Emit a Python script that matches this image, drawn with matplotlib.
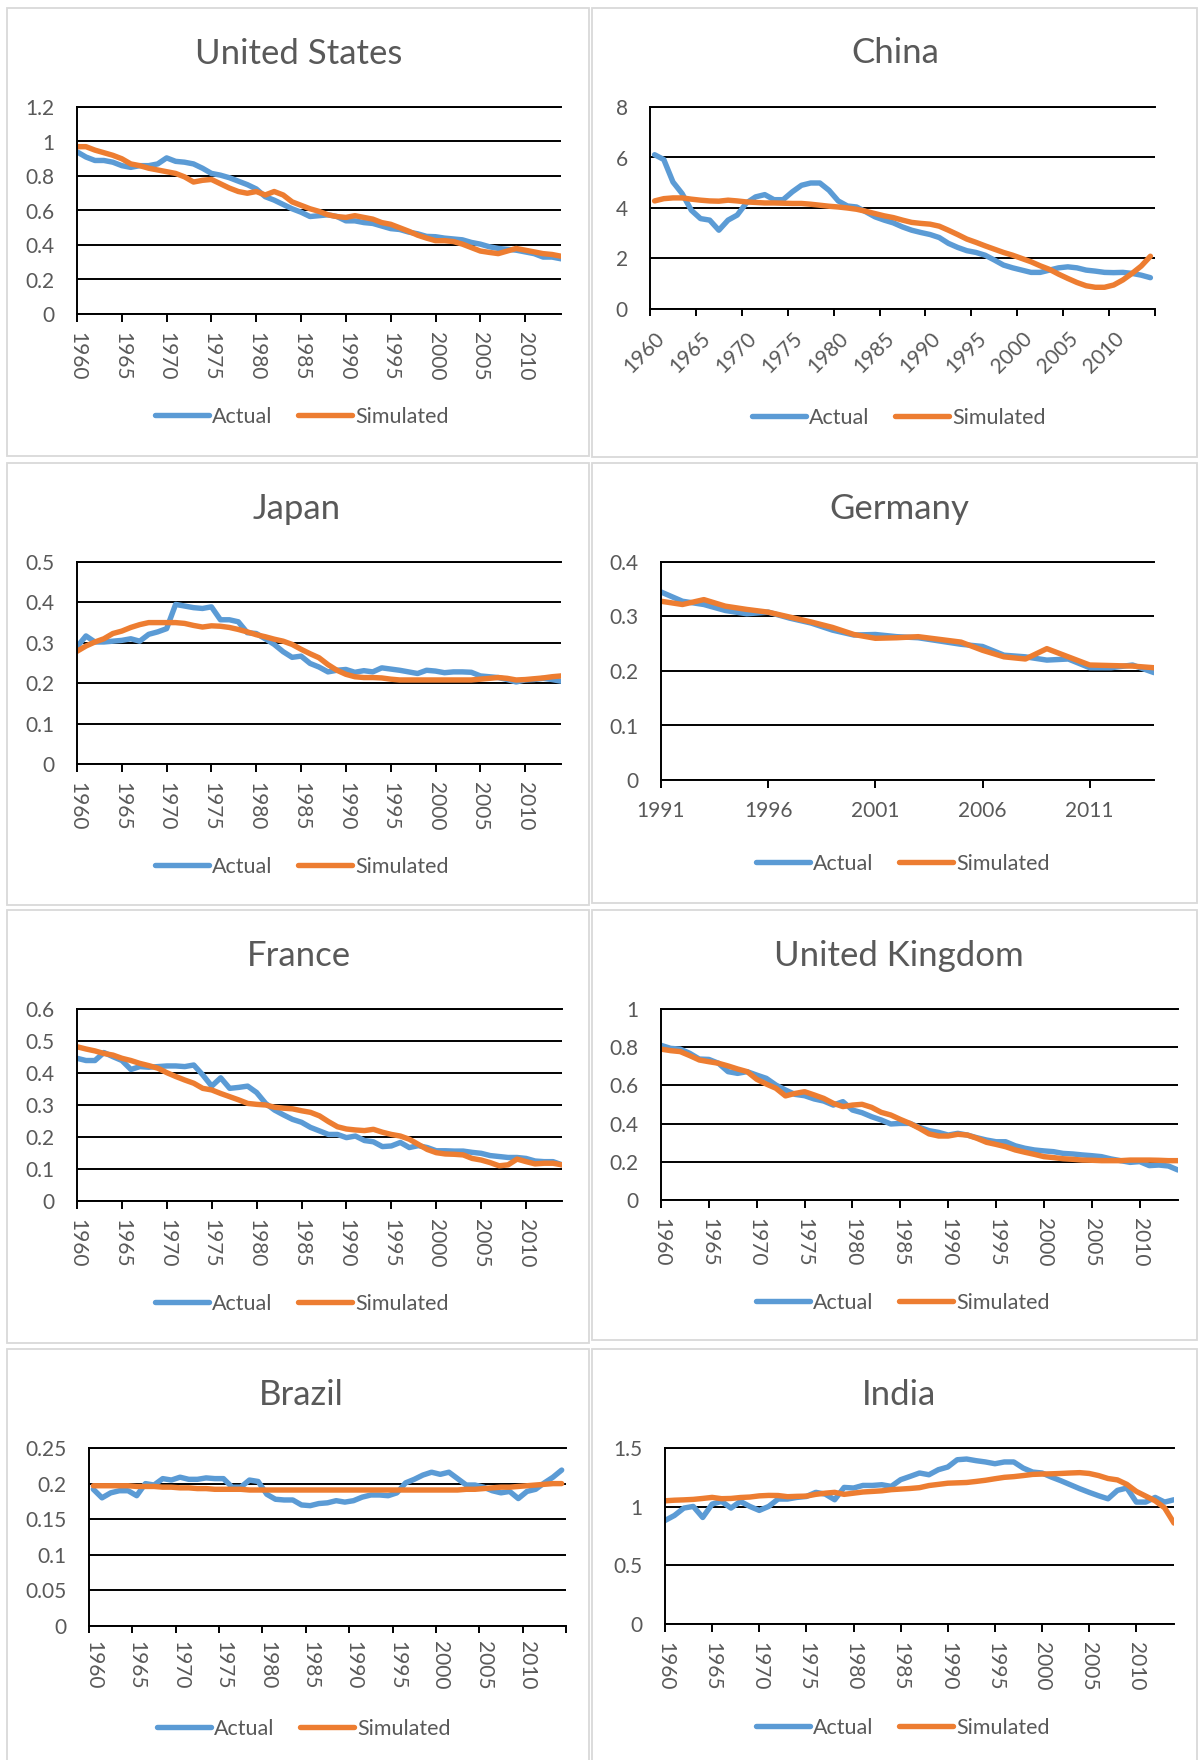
import numpy as np
import matplotlib.pyplot as plt
from matplotlib.patches import Rectangle

plt.rcParams['font.family'] = ['Lato', 'DejaVu Sans']

W, H = 1198, 1760
BLUE = '#5b9bd5'
ORANGE = '#ed7d31'
GREY = '#595959'

years = list(range(1960, 2015))
years_de = list(range(1991, 2015))

us_actual = [0.94, 0.91, 0.89, 0.89, 0.88, 0.86, 0.85, 0.86, 0.86, 0.87,
             0.905, 0.885, 0.88, 0.87, 0.845, 0.815, 0.805, 0.79, 0.77, 0.75,
             0.725, 0.68, 0.66, 0.635, 0.61, 0.59, 0.565, 0.57, 0.575, 0.565,
             0.54, 0.54, 0.53, 0.525, 0.51, 0.495, 0.49, 0.475, 0.465, 0.45,
             0.448, 0.44, 0.435, 0.43, 0.415, 0.405, 0.39, 0.38, 0.375, 0.37,
             0.36, 0.35, 0.33, 0.33, 0.32]
us_sim = [0.97, 0.97, 0.95, 0.935, 0.92, 0.90, 0.87, 0.86, 0.845, 0.835,
          0.825, 0.815, 0.795, 0.765, 0.775, 0.78, 0.755, 0.73, 0.71, 0.70,
          0.71, 0.69, 0.71, 0.69, 0.65, 0.63, 0.61, 0.595, 0.575, 0.565,
          0.56, 0.57, 0.56, 0.55, 0.53, 0.52, 0.50, 0.48, 0.457, 0.44,
          0.425, 0.425, 0.42, 0.405, 0.385, 0.365, 0.357, 0.35, 0.365, 0.38,
          0.37, 0.36, 0.35, 0.345, 0.335]

cn_actual = [6.11, 5.92, 5.03, 4.57, 3.91, 3.58, 3.52, 3.12, 3.52, 3.72,
             4.2, 4.44, 4.53, 4.33, 4.33, 4.64, 4.9, 4.99, 4.99, 4.7,
             4.28, 4.08, 4.04, 3.85, 3.65, 3.52, 3.41, 3.25, 3.12, 3.03,
             2.95, 2.83, 2.6, 2.44, 2.31, 2.24, 2.13, 1.94, 1.74, 1.63,
             1.54, 1.45, 1.45, 1.54, 1.63, 1.67, 1.63, 1.54, 1.50, 1.45,
             1.44, 1.45, 1.41, 1.34, 1.24]
cn_sim = [4.28, 4.37, 4.4, 4.4, 4.35, 4.31, 4.28, 4.27, 4.31, 4.28,
          4.24, 4.22, 4.2, 4.2, 4.19, 4.18, 4.18, 4.15, 4.11, 4.07,
          4.04, 4.0, 3.95, 3.87, 3.78, 3.69, 3.62, 3.52, 3.43, 3.39,
          3.36, 3.28, 3.12, 2.95, 2.77, 2.64, 2.5, 2.37, 2.24, 2.13,
          2.0, 1.87, 1.71, 1.57, 1.38, 1.21, 1.05, 0.92, 0.86, 0.86,
          0.95, 1.15, 1.41, 1.7, 2.09]

jp_actual = [0.29, 0.317, 0.302, 0.302, 0.304, 0.306, 0.31, 0.304, 0.321, 0.327,
             0.335, 0.395, 0.391, 0.387, 0.385, 0.389, 0.357, 0.357, 0.352, 0.325,
             0.323, 0.31, 0.296, 0.278, 0.264, 0.267, 0.249, 0.24, 0.228, 0.232,
             0.234, 0.227, 0.231, 0.228, 0.238, 0.235, 0.232, 0.228, 0.224, 0.232,
             0.23, 0.226, 0.228, 0.228, 0.227, 0.218, 0.216, 0.214, 0.209, 0.203,
             0.208, 0.209, 0.212, 0.209, 0.205]
jp_sim = [0.279, 0.292, 0.302, 0.31, 0.323, 0.329, 0.338, 0.345, 0.35, 0.35,
          0.35, 0.35, 0.348, 0.343, 0.339, 0.342, 0.341, 0.338, 0.333, 0.327,
          0.32, 0.315, 0.309, 0.304, 0.296, 0.284, 0.273, 0.263, 0.246, 0.232,
          0.222, 0.216, 0.214, 0.214, 0.213, 0.21, 0.208, 0.208, 0.208, 0.208,
          0.208, 0.208, 0.208, 0.208, 0.208, 0.21, 0.212, 0.214, 0.212, 0.208,
          0.209, 0.211, 0.213, 0.216, 0.218]

de_actual = [0.345, 0.328, 0.322, 0.311, 0.305, 0.308, 0.297, 0.288, 0.275, 0.266,
             0.267, 0.263, 0.261, 0.255, 0.249, 0.245, 0.229, 0.226, 0.22, 0.222,
             0.206, 0.206, 0.211, 0.197]
de_sim = [0.328, 0.322, 0.331, 0.319, 0.313, 0.308, 0.299, 0.29, 0.28, 0.267,
          0.26, 0.261, 0.263, 0.258, 0.253, 0.238, 0.226, 0.222, 0.241, 0.226,
          0.211, 0.21, 0.209, 0.206]

fr_actual = [0.446, 0.439, 0.439, 0.464, 0.451, 0.439, 0.411, 0.42, 0.418, 0.42,
             0.422, 0.422, 0.42, 0.425, 0.394, 0.359, 0.385, 0.352, 0.355, 0.359,
             0.339, 0.305, 0.284, 0.269, 0.255, 0.246, 0.23, 0.219, 0.208, 0.208,
             0.198, 0.203, 0.189, 0.185, 0.17, 0.172, 0.183, 0.167, 0.173, 0.167,
             0.157, 0.157, 0.156, 0.156, 0.152, 0.149, 0.142, 0.139, 0.136, 0.136,
             0.133, 0.125, 0.123, 0.123, 0.113]
fr_sim = [0.482, 0.475, 0.469, 0.461, 0.456, 0.446, 0.439, 0.43, 0.423, 0.415,
          0.401, 0.389, 0.378, 0.368, 0.352, 0.347, 0.336, 0.326, 0.316, 0.305,
          0.302, 0.3, 0.293, 0.29, 0.288, 0.282, 0.277, 0.266, 0.248, 0.232,
          0.225, 0.222, 0.22, 0.224, 0.215, 0.208, 0.203, 0.193, 0.177, 0.161,
          0.151, 0.147, 0.146, 0.144, 0.133, 0.128, 0.12, 0.11, 0.113, 0.131,
          0.123, 0.116, 0.118, 0.118, 0.113]

uk_actual = [0.81, 0.794, 0.79, 0.768, 0.738, 0.736, 0.716, 0.672, 0.663, 0.672,
             0.654, 0.637, 0.602, 0.576, 0.553, 0.546, 0.529, 0.518, 0.497, 0.515,
             0.471, 0.457, 0.436, 0.419, 0.398, 0.401, 0.401, 0.38, 0.363, 0.354,
             0.34, 0.349, 0.34, 0.326, 0.314, 0.305, 0.305, 0.284, 0.271, 0.262,
             0.257, 0.253, 0.244, 0.241, 0.236, 0.232, 0.227, 0.215, 0.206, 0.197,
             0.201, 0.18, 0.183, 0.178, 0.157]
uk_sim = [0.79, 0.782, 0.777, 0.756, 0.733, 0.724, 0.716, 0.702, 0.686, 0.672,
          0.632, 0.607, 0.585, 0.545, 0.558, 0.567, 0.55, 0.532, 0.506, 0.489,
          0.497, 0.501, 0.485, 0.459, 0.445, 0.422, 0.401, 0.375, 0.346, 0.335,
          0.335, 0.344, 0.34, 0.323, 0.302, 0.291, 0.279, 0.262, 0.25, 0.239,
          0.227, 0.222, 0.216, 0.213, 0.209, 0.208, 0.206, 0.206, 0.206, 0.209,
          0.209, 0.209, 0.208, 0.206, 0.206]

br_actual = [0.192, 0.18, 0.187, 0.19, 0.19, 0.183, 0.2, 0.198, 0.207, 0.205,
             0.209, 0.206, 0.206, 0.208, 0.207, 0.207, 0.195, 0.195, 0.205, 0.203,
             0.185, 0.178, 0.177, 0.177, 0.17, 0.169, 0.172, 0.173, 0.176, 0.174,
             0.176, 0.181, 0.184, 0.184, 0.183, 0.187, 0.201, 0.206, 0.212, 0.216,
             0.213, 0.216, 0.207, 0.198, 0.198, 0.195, 0.19, 0.187, 0.189, 0.179,
             0.189, 0.192, 0.201, 0.209, 0.219]
br_sim = [0.197, 0.197, 0.197, 0.197, 0.197, 0.196, 0.196, 0.196, 0.195, 0.195,
          0.194, 0.194, 0.193, 0.193, 0.192, 0.192, 0.192, 0.192, 0.191, 0.191,
          0.191, 0.191, 0.191, 0.191, 0.191, 0.191, 0.191, 0.191, 0.191, 0.191,
          0.191, 0.191, 0.191, 0.191, 0.191, 0.191, 0.191, 0.191, 0.191, 0.191,
          0.191, 0.191, 0.191, 0.192, 0.192, 0.193, 0.194, 0.195, 0.195, 0.196,
          0.197, 0.198, 0.199, 0.2, 0.2]

in_actual = [0.882, 0.925, 0.988, 1.002, 0.908, 1.022, 1.045, 0.988, 1.045, 1.002,
             0.968, 1.002, 1.065, 1.065, 1.079, 1.087, 1.122, 1.107, 1.059, 1.164,
             1.159, 1.181, 1.181, 1.187, 1.173, 1.23, 1.258, 1.287, 1.272, 1.315,
             1.338, 1.4, 1.406, 1.392, 1.381, 1.366, 1.381, 1.381, 1.329, 1.295,
             1.287, 1.252, 1.221, 1.187, 1.153, 1.122, 1.093, 1.067, 1.139, 1.159,
             1.039, 1.039, 1.079, 1.039, 1.059]
in_sim = [1.05, 1.055, 1.058, 1.062, 1.07, 1.079, 1.068, 1.07, 1.078, 1.082,
          1.092, 1.096, 1.095, 1.085, 1.088, 1.09, 1.105, 1.115, 1.122, 1.105,
          1.115, 1.125, 1.13, 1.135, 1.145, 1.15, 1.155, 1.162, 1.18, 1.19,
          1.2, 1.203, 1.206, 1.215, 1.225, 1.238, 1.25, 1.256, 1.265, 1.275,
          1.278, 1.28, 1.283, 1.287, 1.29, 1.283, 1.265, 1.24, 1.228, 1.19,
          1.13, 1.09, 1.05, 0.99, 0.86]

us_ticks = [0, 0.2, 0.4, 0.6, 0.8, 1, 1.2]
cn_ticks = [0, 2, 4, 6, 8]
jp_ticks = [0, 0.1, 0.2, 0.3, 0.4, 0.5]
de_ticks = [0, 0.1, 0.2, 0.3, 0.4]
fr_ticks = [0, 0.1, 0.2, 0.3, 0.4, 0.5, 0.6]
uk_ticks = [0, 0.2, 0.4, 0.6, 0.8, 1]
br_ticks = [0, 0.05, 0.1, 0.15, 0.2, 0.25]
in_ticks = [0, 0.5, 1, 1.5]

fig = plt.figure(figsize=(W / 100, H / 100), dpi=100)


def frame(x0, y0, x1, y1):
    fig.patches.append(Rectangle((x0 / W, 1 - y1 / H), (x1 - x0) / W, (y1 - y0) / H,
                                 transform=fig.transFigure, fill=False,
                                 ec='#d9d9d9', lw=1.3))


def panel(box, title, title_xy, leg_xy, x, actual, sim, yticks, mode, rot=-90):
    l, r, t, b = box
    ax = fig.add_axes([l / W, 1 - b / H, (r - l) / W, (b - t) / H])
    kw = dict(lw=3.9, solid_joinstyle='round', solid_capstyle='round')
    ax.plot(x, actual, color=BLUE, label='Actual', **kw)
    ax.plot(x, sim, color=ORANGE, label='Simulated', **kw)

    ax.set_ylim(0, yticks[-1])
    ax.set_yticks(yticks)
    ax.set_yticklabels(['%g' % v for v in yticks])
    ax.yaxis.grid(True, color='black', lw=1.4)
    ax.set_axisbelow(True)
    ax.tick_params(axis='y', length=0, pad=16, labelsize=15, labelcolor=GREY)

    for s in ['left', 'bottom', 'top']:
        ax.spines[s].set_color('black')
        ax.spines[s].set_linewidth(1.4)
    ax.spines['right'].set_visible(False)

    first, last = x[0], x[-1]
    if mode == 'between':
        # categories sit between the tick marks
        ax.set_xlim(first - 0.5, last + 0.5)
        ax.set_xticks([first - 0.5 + 5 * k for k in range(12)])
        ax.set_xticklabels([])
        centers = list(range(first, last + 1, 5))
        ax.set_xticks(centers, minor=True)
        if rot == 45:
            ax.set_xticklabels([str(c) for c in centers], minor=True,
                               rotation=45, ha='right', va='top',
                               rotation_mode='anchor')
            pad = 14
        else:
            ax.set_xticklabels([str(c) for c in centers], minor=True,
                               rotation=-90)
            pad = 11
        ax.tick_params(axis='x', which='major', direction='out', length=5,
                       width=1.4, color='black')
        ax.tick_params(axis='x', which='minor', length=0, pad=pad,
                       labelsize=15, labelcolor=GREY)
    elif mode == 'flat':
        ax.set_xlim(first, last)
        ticks = list(range(first, last + 1, 5))
        ax.set_xticks(ticks)
        ax.set_xticklabels([str(c) for c in ticks])
        ax.tick_params(axis='x', direction='out', length=6, width=1.4,
                       color='black', pad=9, labelsize=15, labelcolor=GREY)
    else:
        ax.set_xlim(first, last)
        ticks = list(range(first, last + 1, 5))
        ax.set_xticks(ticks)
        ax.set_xticklabels([str(c) for c in ticks], rotation=-90)
        ax.tick_params(axis='x', direction='out', length=6, width=1.4,
                       color='black', pad=7, labelsize=15, labelcolor=GREY)

    fig.text(title_xy[0] / W, 1 - title_xy[1] / H, title, ha='center',
             va='baseline', fontsize=25, color=GREY)
    ax.legend(loc='center', bbox_to_anchor=(leg_xy[0] / W, 1 - leg_xy[1] / H),
              bbox_transform=fig.transFigure, ncol=2, frameon=False,
              fontsize=15.5, labelcolor=GREY, handlelength=2.5,
              handletextpad=0.15, columnspacing=1.2, borderaxespad=0)
    return ax


# chart frames
frame(7, 8, 589, 456)
frame(592, 8, 1197, 457)
frame(7, 463, 589, 905)
frame(592, 463, 1197, 903)
frame(7, 910, 589, 1343)
frame(592, 910, 1197, 1340)
frame(7, 1349, 589, 1765)
frame(592, 1349, 1197, 1765)

panel((77, 561, 107, 314), 'United States', (299, 64), (302, 417),
      years, us_actual, us_sim, us_ticks, 'on')
panel((650, 1155, 107, 309), 'China', (895, 63), (899, 418),
      years, cn_actual, cn_sim, cn_ticks, 'between', rot=45)
panel((77, 561, 562, 764), 'Japan', (297, 519), (302, 867),
      years, jp_actual, jp_sim, jp_ticks, 'on')
panel((661, 1154, 562, 780), 'Germany', (899, 519), (903, 864),
      years_de, de_actual, de_sim, de_ticks, 'flat')
panel((77, 562, 1009, 1201), 'France', (299, 966), (302, 1304),
      years, fr_actual, fr_sim, fr_ticks, 'on')
panel((661, 1178, 1009, 1200), 'United Kingdom', (899, 966), (903, 1303),
      years, uk_actual, uk_sim, uk_ticks, 'on')
panel((89, 566, 1448, 1626), 'Brazil', (301, 1405), (304, 1729),
      years, br_actual, br_sim, br_ticks, 'between')
panel((665, 1174, 1448, 1624), 'India', (899, 1405), (903, 1728),
      years, in_actual, in_sim, in_ticks, 'on')

fig.savefig('out.png', dpi=100, facecolor='white')
